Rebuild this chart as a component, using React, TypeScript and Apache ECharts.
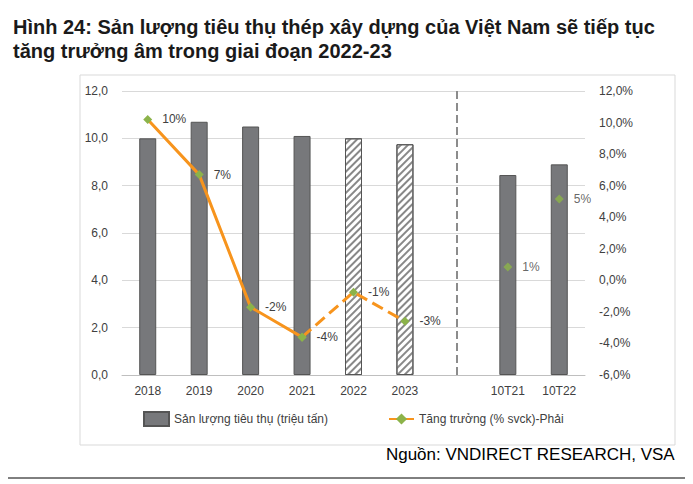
import React, { useEffect, useRef } from "react";
import * as echarts from "echarts";

const categories = ["2018", "2019", "2020", "2021", "2022", "2023", "", "10T21", "10T22"];
const volume = [10.0, 10.7, 10.5, 10.1, 10.0, 9.75, null, 8.45, 8.9];
const growthActual = [10.2, 6.7, -1.7, -3.6, null, null, null, null, null];
const growthForecast = [null, null, null, -3.6, -0.75, -2.6, null, null, null];
const growthYtd = [null, null, null, null, null, null, null, 0.85, 5.16];
const growthLabels = ["10%", "7%", "-2%", "-4%", "-1%", "-3%", "", "1%", "5%"];
const hatched = ["2022", "2023"];

const fmt = (v: number) => v.toFixed(1).replace(".", ",");

const App = () => {
  const chartRef = useRef<HTMLDivElement>(null);

  useEffect(() => {
    document.body.style.margin = "0";
    const chart = echarts.init(chartRef.current, null, { renderer: "svg" });
    const lbl = (p: any) => growthLabels[p.dataIndex];
    const labelCfg = { show: true, position: "right", distance: 10, formatter: lbl, color: "#404040", fontSize: 12, fontFamily: "Liberation Sans" };
    const option = {
      animation: false,
      textStyle: { fontFamily: "Liberation Sans" },
      title: {
        text: "Hình 24: Sản lượng tiêu thụ thép xây dựng của Việt Nam sẽ tiếp tục\ntăng trưởng âm trong giai đoạn 2022-23",
        left: 8,
        top: 10,
        textStyle: { fontSize: 20, fontWeight: "bold", color: "#1a1a1a", lineHeight: 24, fontFamily: "Liberation Sans" },
      },
      graphic: [
        { type: "rect", shape: { x: 80, y: 75, width: 595, height: 370 }, style: { fill: "none", stroke: "#d9d9d9" } },
        { type: "text", right: 18, top: 446, style: { text: "Nguồn: VNDIRECT RESEARCH, VSA", fontSize: 17, fill: "#000", fontFamily: "Liberation Sans" } },
        { type: "line", shape: { x1: 8, y1: 478, x2: 685, y2: 478 }, style: { stroke: "#000", lineWidth: 1 } },
      ],
      legend: {
        bottom: 52,
        left: 138,
        itemGap: 60,
        textStyle: { fontSize: 12, color: "#404040" },
        data: [
          { name: "Sản lượng tiêu thụ (triệu tấn)", icon: "rect" },
          { name: "Tăng trưởng (% svck)-Phải" },
        ],
      },
      grid: { left: 122, right: 108, top: 91, bottom: 109 },
      xAxis: {
        type: "category",
        data: categories,
        axisTick: { show: false },
        axisLine: { lineStyle: { color: "#bfbfbf" } },
        axisLabel: { color: "#404040", fontSize: 12, margin: 10 },
      },
      yAxis: [
        {
          type: "value", min: 0, max: 12, interval: 2,
          axisLabel: { formatter: fmt, color: "#404040", fontSize: 12, margin: 14 },
          splitLine: { lineStyle: { color: "#d9d9d9" } },
        },
        {
          type: "value", min: -6, max: 12, interval: 2,
          axisLabel: { formatter: (v: number) => fmt(v) + "%", color: "#404040", fontSize: 12, margin: 14 },
          splitLine: { show: false },
        },
      ],
      series: [
        {
          name: "Sản lượng tiêu thụ (triệu tấn)",
          type: "bar",
          barWidth: 17,
          itemStyle: { color: "#77787b", borderColor: "#555", borderWidth: 1 },
          data: volume.map((v, i) =>
            hatched.includes(categories[i])
              ? {
                  value: v,
                  itemStyle: {
                    color: "#fff",
                    decal: { symbol: "rect", color: "#888", dashArrayX: [1, 0], dashArrayY: [2, 3], rotation: -Math.PI / 4 },
                  },
                }
              : v
          ),
          markLine: {
            silent: true,
            symbol: "none",
            label: { show: false },
            lineStyle: { color: "#8c8c8c", type: "dashed", width: 2 },
            data: [[{ coord: ["", 0] }, { coord: ["", 12] }]],
          },
        },
        {
          name: "Tăng trưởng (% svck)-Phải",
          type: "line",
          yAxisIndex: 1,
          data: growthActual,
          lineStyle: { color: "#f7941d", width: 3 },
          itemStyle: { color: "#8cb34a" },
          color: "#f7941d",
          symbol: "diamond",
          symbolSize: 9,
          label: labelCfg,
        },
        {
          name: "forecast",
          type: "line",
          yAxisIndex: 1,
          data: growthForecast,
          lineStyle: { color: "#f7941d", width: 3, type: "dashed" },
          itemStyle: { color: "#8cb34a" },
          symbol: "diamond",
          symbolSize: 9,
          label: { ...labelCfg, formatter: (p: any) => (p.dataIndex === 3 ? "" : lbl(p)) },
        },
        {
          name: "ytd",
          type: "scatter",
          yAxisIndex: 1,
          data: growthYtd,
          itemStyle: { color: "#8cb34a" },
          symbol: "diamond",
          symbolSize: 9,
          label: labelCfg,
        },
      ],
    };
    chart.setOption(option as any);
    return () => chart.dispose();
  }, []);

  return <div ref={chartRef} style={{ width: 693, height: 484 }} />;
};

export default App;
